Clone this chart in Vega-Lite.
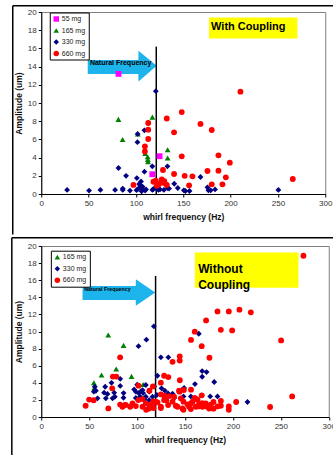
{
  "$schema": "https://vega.github.io/schema/vega-lite/v6.json",
  "padding": {"left": 10.25, "top": 4, "right": 0, "bottom": 0},
  "spacing": 0,
  "background": "white",
  "config": {
    "font": "Liberation Sans",
    "view": {"stroke": "#808080", "strokeWidth": 1},
    "axis": {"domainColor": "#000", "domainWidth": 1, "tickColor": "#000", "tickSize": 3, "gridColor": "#000", "gridWidth": 1, "gridOpacity": 0.9, "labelFontSize": 8, "labelColor": "#333", "labelPadding": 2, "titleFontSize": 8.5, "titleFontWeight": "bold", "titleColor": "#111"},
    "axisX": {"titlePadding": 5, "labelFlush": false},
    "axisY": {"titlePadding": 4},
    "legend": {"orient": "none", "title": null, "fillColor": "white", "strokeColor": "#000", "strokeWidth": 1, "padding": 3, "labelFontSize": 7, "labelColor": "#222", "symbolSize": 30, "rowPadding": 3.5, "labelOffset": 2, "symbolStrokeWidth": 0}
  },
  "resolve": {"scale": {"color": "independent", "shape": "independent", "x": "independent", "y": "independent"}, "legend": {"color": "independent", "shape": "independent"}},
  "datasets": {
    "withCoupling": [
      {"freq": 81.6, "amp": 13.2, "mass": "55 mg"}, {"freq": 125, "amp": 4.15, "mass": "55 mg"}, {"freq": 117.3, "amp": 2.17, "mass": "55 mg"},
      {"freq": 81.5, "amp": 8.2, "mass": "165 mg"}, {"freq": 85.9, "amp": 6.0, "mass": "165 mg"}, {"freq": 102, "amp": 6.6, "mass": "165 mg"}, {"freq": 109.7, "amp": 4.45, "mass": "165 mg"}, {"freq": 112.4, "amp": 4.1, "mass": "165 mg"}, {"freq": 112.6, "amp": 3.8, "mass": "165 mg"}, {"freq": 112.8, "amp": 3.55, "mass": "165 mg"}, {"freq": 117.4, "amp": 8.45, "mass": "165 mg"}, {"freq": 133.5, "amp": 4.87, "mass": "165 mg"}, {"freq": 133.5, "amp": 3.96, "mass": "165 mg"},
      {"freq": 27.3, "amp": 0.45, "mass": "330 mg"}, {"freq": 50.5, "amp": 0.38, "mass": "330 mg"}, {"freq": 62.5, "amp": 0.45, "mass": "330 mg"}, {"freq": 78, "amp": 0.45, "mass": "330 mg"}, {"freq": 86.1, "amp": 0.45, "mass": "330 mg"}, {"freq": 86.1, "amp": 0.6, "mass": "330 mg"}, {"freq": 93.7, "amp": 0.38, "mass": "330 mg"}, {"freq": 100.6, "amp": 0.42, "mass": "330 mg"}, {"freq": 102.6, "amp": 0.6, "mass": "330 mg"}, {"freq": 104.8, "amp": 0.95, "mass": "330 mg"}, {"freq": 106, "amp": 0.3, "mass": "330 mg"}, {"freq": 106.7, "amp": 0.45, "mass": "330 mg"}, {"freq": 109.7, "amp": 0.38, "mass": "330 mg"}, {"freq": 110.7, "amp": 0.5, "mass": "330 mg"}, {"freq": 117.4, "amp": 0.45, "mass": "330 mg"}, {"freq": 118.5, "amp": 0.55, "mass": "330 mg"}, {"freq": 121.3, "amp": 0.66, "mass": "330 mg"}, {"freq": 123.8, "amp": 0.45, "mass": "330 mg"}, {"freq": 125.5, "amp": 0.5, "mass": "330 mg"}, {"freq": 129.5, "amp": 0.45, "mass": "330 mg"}, {"freq": 133.3, "amp": 0.66, "mass": "330 mg"}, {"freq": 135, "amp": 0.6, "mass": "330 mg"}, {"freq": 140.5, "amp": 1.13, "mass": "330 mg"}, {"freq": 144.2, "amp": 0.66, "mass": "330 mg"}, {"freq": 150.6, "amp": 0.4, "mass": "330 mg"}, {"freq": 152.3, "amp": 0.33, "mass": "330 mg"}, {"freq": 156.6, "amp": 0.33, "mass": "330 mg"}, {"freq": 168.2, "amp": 1.87, "mass": "330 mg"}, {"freq": 175.6, "amp": 0.73, "mass": "330 mg"}, {"freq": 176.6, "amp": 0.4, "mass": "330 mg"}, {"freq": 179, "amp": 0.4, "mass": "330 mg"}, {"freq": 183.6, "amp": 0.5, "mass": "330 mg"}, {"freq": 250.5, "amp": 0.45, "mass": "330 mg"}, {"freq": 121, "amp": 11.3, "mass": "330 mg"}, {"freq": 101.8, "amp": 6.6, "mass": "330 mg"}, {"freq": 109, "amp": 7.0, "mass": "330 mg"}, {"freq": 101.6, "amp": 5.7, "mass": "330 mg"}, {"freq": 81.6, "amp": 2.86, "mass": "330 mg"}, {"freq": 89.6, "amp": 2.0, "mass": "330 mg"}, {"freq": 109, "amp": 2.45, "mass": "330 mg"}, {"freq": 117.3, "amp": 3.04, "mass": "330 mg"}, {"freq": 133.3, "amp": 3.04, "mass": "330 mg"}, {"freq": 101, "amp": 1.75, "mass": "330 mg"}, {"freq": 105.4, "amp": 1.38, "mass": "330 mg"}, {"freq": 103.5, "amp": 1.1, "mass": "330 mg"}, {"freq": 107, "amp": 0.8, "mass": "330 mg"},
      {"freq": 210.4, "amp": 11.25, "mass": "660 mg"}, {"freq": 148.4, "amp": 9.0, "mass": "660 mg"}, {"freq": 132.6, "amp": 8.3, "mass": "660 mg"}, {"freq": 168.2, "amp": 7.7, "mass": "660 mg"}, {"freq": 180.1, "amp": 7.03, "mass": "660 mg"}, {"freq": 140.3, "amp": 6.78, "mass": "660 mg"}, {"freq": 113, "amp": 7.8, "mass": "660 mg"}, {"freq": 113, "amp": 7.07, "mass": "660 mg"}, {"freq": 113, "amp": 6.04, "mass": "660 mg"}, {"freq": 109.5, "amp": 5.24, "mass": "660 mg"}, {"freq": 109.5, "amp": 4.67, "mass": "660 mg"}, {"freq": 148.4, "amp": 4.14, "mass": "660 mg"}, {"freq": 187.2, "amp": 4.25, "mass": "660 mg"}, {"freq": 199.2, "amp": 3.44, "mass": "660 mg"}, {"freq": 128.6, "amp": 2.64, "mass": "660 mg"}, {"freq": 140.3, "amp": 2.2, "mass": "660 mg"}, {"freq": 151.5, "amp": 2.0, "mass": "660 mg"}, {"freq": 159.7, "amp": 1.94, "mass": "660 mg"}, {"freq": 175.6, "amp": 2.53, "mass": "660 mg"}, {"freq": 187.2, "amp": 2.56, "mass": "660 mg"}, {"freq": 195, "amp": 1.83, "mass": "660 mg"}, {"freq": 191.4, "amp": 1.06, "mass": "660 mg"}, {"freq": 180.1, "amp": 1.06, "mass": "660 mg"}, {"freq": 156.2, "amp": 0.95, "mass": "660 mg"}, {"freq": 97.4, "amp": 1.0, "mass": "660 mg"}, {"freq": 118.5, "amp": 1.35, "mass": "660 mg"}, {"freq": 121, "amp": 1.47, "mass": "660 mg"}, {"freq": 127.3, "amp": 1.6, "mass": "660 mg"}, {"freq": 129.7, "amp": 1.2, "mass": "660 mg"}, {"freq": 132.6, "amp": 0.99, "mass": "660 mg"}, {"freq": 124.5, "amp": 1.1, "mass": "660 mg"}, {"freq": 265.7, "amp": 1.65, "mass": "660 mg"}, {"freq": 122, "amp": 0.9, "mass": "660 mg"}, {"freq": 130, "amp": 1.4, "mass": "660 mg"}
    ],
    "withoutCoupling": [
      {"freq": 69.9, "amp": 9.58, "mass": "165 mg"}, {"freq": 85.9, "amp": 8.38, "mass": "165 mg"}, {"freq": 78.2, "amp": 5.61, "mass": "165 mg"}, {"freq": 94.2, "amp": 4.75, "mass": "165 mg"}, {"freq": 62.9, "amp": 4.91, "mass": "165 mg"}, {"freq": 54.9, "amp": 4.01, "mass": "165 mg"}, {"freq": 55.3, "amp": 3.4, "mass": "165 mg"}, {"freq": 106.3, "amp": 3.8, "mass": "165 mg"},
      {"freq": 117.5, "amp": 10.6, "mass": "330 mg"}, {"freq": 109.7, "amp": 9.04, "mass": "330 mg"}, {"freq": 101.5, "amp": 8.28, "mass": "330 mg"}, {"freq": 164.4, "amp": 9.74, "mass": "330 mg"}, {"freq": 124.8, "amp": 6.98, "mass": "330 mg"}, {"freq": 132.6, "amp": 6.98, "mass": "330 mg"}, {"freq": 167.9, "amp": 5.37, "mass": "330 mg"}, {"freq": 172.5, "amp": 5.25, "mass": "330 mg"}, {"freq": 167.9, "amp": 4.71, "mass": "330 mg"}, {"freq": 160.4, "amp": 3.85, "mass": "330 mg"}, {"freq": 180.5, "amp": 4.09, "mass": "330 mg"}, {"freq": 121.2, "amp": 4.82, "mass": "330 mg"}, {"freq": 82.4, "amp": 4.46, "mass": "330 mg"}, {"freq": 82.4, "amp": 3.64, "mass": "330 mg"}, {"freq": 73.3, "amp": 4.0, "mass": "330 mg"}, {"freq": 55.9, "amp": 3.54, "mass": "330 mg"}, {"freq": 57, "amp": 3.07, "mass": "330 mg"}, {"freq": 54.9, "amp": 2.96, "mass": "330 mg"}, {"freq": 66.7, "amp": 3.54, "mass": "330 mg"}, {"freq": 65.6, "amp": 2.85, "mass": "330 mg"}, {"freq": 69.1, "amp": 2.69, "mass": "330 mg"}, {"freq": 76.1, "amp": 2.85, "mass": "330 mg"}, {"freq": 74.4, "amp": 2.18, "mass": "330 mg"}, {"freq": 76.8, "amp": 2.37, "mass": "330 mg"}, {"freq": 67.4, "amp": 2.18, "mass": "330 mg"}, {"freq": 58.7, "amp": 2.18, "mass": "330 mg"}, {"freq": 85.8, "amp": 2.25, "mass": "330 mg"}, {"freq": 85.9, "amp": 2.8, "mass": "330 mg"}, {"freq": 96.9, "amp": 3.23, "mass": "330 mg"}, {"freq": 98.7, "amp": 2.96, "mass": "330 mg"}, {"freq": 105.7, "amp": 3.15, "mass": "330 mg"}, {"freq": 109.1, "amp": 3.74, "mass": "330 mg"}, {"freq": 100.1, "amp": 3.78, "mass": "330 mg"}, {"freq": 103.2, "amp": 2.37, "mass": "330 mg"}, {"freq": 109.1, "amp": 2.37, "mass": "330 mg"}, {"freq": 112.6, "amp": 1.98, "mass": "330 mg"}, {"freq": 116.1, "amp": 2.37, "mass": "330 mg"}, {"freq": 112.6, "amp": 2.96, "mass": "330 mg"}, {"freq": 120.7, "amp": 2.57, "mass": "330 mg"}, {"freq": 125.5, "amp": 3.35, "mass": "330 mg"}, {"freq": 129, "amp": 3.08, "mass": "330 mg"}, {"freq": 132.4, "amp": 2.76, "mass": "330 mg"}, {"freq": 137, "amp": 2.72, "mass": "330 mg"}, {"freq": 147.4, "amp": 3.23, "mass": "330 mg"}, {"freq": 149.1, "amp": 3.39, "mass": "330 mg"}, {"freq": 148.4, "amp": 2.41, "mass": "330 mg"}, {"freq": 156.1, "amp": 2.41, "mass": "330 mg"}, {"freq": 176.3, "amp": 2.41, "mass": "330 mg"}, {"freq": 183.9, "amp": 2.41, "mass": "330 mg"}, {"freq": 215.2, "amp": 1.75, "mass": "330 mg"}, {"freq": 130.7, "amp": 1.95, "mass": "330 mg"}, {"freq": 138.7, "amp": 2.22, "mass": "330 mg"}, {"freq": 117.8, "amp": 3.58, "mass": "330 mg"}, {"freq": 86.5, "amp": 1.4, "mass": "330 mg"}, {"freq": 101.5, "amp": 2.8, "mass": "330 mg"}, {"freq": 106.3, "amp": 2.8, "mass": "330 mg"}, {"freq": 104, "amp": 3.0, "mass": "330 mg"}, {"freq": 98.7, "amp": 2.22, "mass": "330 mg"}, {"freq": 107.4, "amp": 2.02, "mass": "330 mg"},
      {"freq": 273.6, "amp": 18.86, "mass": "660 mg"}, {"freq": 206.8, "amp": 12.55, "mass": "660 mg"}, {"freq": 195.7, "amp": 12.35, "mass": "660 mg"}, {"freq": 183.9, "amp": 12.35, "mass": "660 mg"}, {"freq": 218.7, "amp": 12.24, "mass": "660 mg"}, {"freq": 172, "amp": 11.3, "mass": "660 mg"}, {"freq": 160.2, "amp": 9.98, "mass": "660 mg"}, {"freq": 156.3, "amp": 9.02, "mass": "660 mg"}, {"freq": 187.4, "amp": 10.2, "mass": "660 mg"}, {"freq": 199.2, "amp": 10.13, "mass": "660 mg"}, {"freq": 250.3, "amp": 8.96, "mass": "660 mg"}, {"freq": 167.4, "amp": 8.28, "mass": "660 mg"}, {"freq": 82.3, "amp": 6.98, "mass": "660 mg"}, {"freq": 175.5, "amp": 6.93, "mass": "660 mg"}, {"freq": 144.5, "amp": 7.1, "mass": "660 mg"}, {"freq": 144.5, "amp": 6.6, "mass": "660 mg"}, {"freq": 137, "amp": 6.45, "mass": "660 mg"}, {"freq": 74.7, "amp": 4.73, "mass": "660 mg"}, {"freq": 78.3, "amp": 4.73, "mass": "660 mg"}, {"freq": 74, "amp": 3.35, "mass": "660 mg"}, {"freq": 128.2, "amp": 4.82, "mass": "660 mg"}, {"freq": 132.6, "amp": 4.67, "mass": "660 mg"}, {"freq": 144.6, "amp": 4.3, "mass": "660 mg"}, {"freq": 124.8, "amp": 4.02, "mass": "660 mg"}, {"freq": 116.5, "amp": 3.58, "mass": "660 mg"}, {"freq": 101.4, "amp": 3.66, "mass": "660 mg"}, {"freq": 112.9, "amp": 3.08, "mass": "660 mg"}, {"freq": 144.3, "amp": 2.96, "mass": "660 mg"}, {"freq": 148.8, "amp": 3.16, "mass": "660 mg"}, {"freq": 156.3, "amp": 3.2, "mass": "660 mg"}, {"freq": 167.5, "amp": 2.53, "mass": "660 mg"}, {"freq": 261.8, "amp": 2.41, "mass": "660 mg"}, {"freq": 46.3, "amp": 1.32, "mass": "660 mg"}, {"freq": 50, "amp": 2.04, "mass": "660 mg"}, {"freq": 54.7, "amp": 1.96, "mass": "660 mg"}, {"freq": 70, "amp": 1.0, "mass": "660 mg"}, {"freq": 82.3, "amp": 1.45, "mass": "660 mg"}, {"freq": 84.8, "amp": 1.2, "mass": "660 mg"}, {"freq": 88.2, "amp": 1.4, "mass": "660 mg"}, {"freq": 92.8, "amp": 1.2, "mass": "660 mg"}, {"freq": 95.2, "amp": 1.59, "mass": "660 mg"}, {"freq": 98.7, "amp": 1.28, "mass": "660 mg"}, {"freq": 101.3, "amp": 1.98, "mass": "660 mg"}, {"freq": 105.7, "amp": 1.2, "mass": "660 mg"}, {"freq": 109.1, "amp": 1.59, "mass": "660 mg"}, {"freq": 109.5, "amp": 0.85, "mass": "660 mg"}, {"freq": 112.6, "amp": 0.99, "mass": "660 mg"}, {"freq": 113.3, "amp": 1.44, "mass": "660 mg"}, {"freq": 116.1, "amp": 1.4, "mass": "660 mg"}, {"freq": 117.1, "amp": 1.05, "mass": "660 mg"}, {"freq": 119.6, "amp": 1.79, "mass": "660 mg"}, {"freq": 121.3, "amp": 1.71, "mass": "660 mg"}, {"freq": 124.8, "amp": 1.2, "mass": "660 mg"}, {"freq": 124.8, "amp": 2.65, "mass": "660 mg"}, {"freq": 128.2, "amp": 1.98, "mass": "660 mg"}, {"freq": 128.2, "amp": 2.49, "mass": "660 mg"}, {"freq": 130.4, "amp": 1.95, "mass": "660 mg"}, {"freq": 132.4, "amp": 1.4, "mass": "660 mg"}, {"freq": 133.4, "amp": 2.45, "mass": "660 mg"}, {"freq": 137, "amp": 1.79, "mass": "660 mg"}, {"freq": 138.6, "amp": 2.37, "mass": "660 mg"}, {"freq": 140.4, "amp": 1.32, "mass": "660 mg"}, {"freq": 142.2, "amp": 1.2, "mass": "660 mg"}, {"freq": 143.8, "amp": 3.07, "mass": "660 mg"}, {"freq": 145.6, "amp": 2.18, "mass": "660 mg"}, {"freq": 147.4, "amp": 0.99, "mass": "660 mg"}, {"freq": 148.4, "amp": 1.79, "mass": "660 mg"}, {"freq": 148.4, "amp": 0.85, "mass": "660 mg"}, {"freq": 152.6, "amp": 1.48, "mass": "660 mg"}, {"freq": 154.3, "amp": 1.2, "mass": "660 mg"}, {"freq": 156.1, "amp": 1.59, "mass": "660 mg"}, {"freq": 156.1, "amp": 0.93, "mass": "660 mg"}, {"freq": 157.8, "amp": 1.79, "mass": "660 mg"}, {"freq": 160.2, "amp": 2.22, "mass": "660 mg"}, {"freq": 161.3, "amp": 1.2, "mass": "660 mg"}, {"freq": 163, "amp": 2.06, "mass": "660 mg"}, {"freq": 164.8, "amp": 1.59, "mass": "660 mg"}, {"freq": 164.4, "amp": 1.24, "mass": "660 mg"}, {"freq": 168.3, "amp": 1.2, "mass": "660 mg"}, {"freq": 168.2, "amp": 1.63, "mass": "660 mg"}, {"freq": 171.7, "amp": 1.59, "mass": "660 mg"}, {"freq": 172.5, "amp": 1.24, "mass": "660 mg"}, {"freq": 175.2, "amp": 0.99, "mass": "660 mg"}, {"freq": 176.9, "amp": 1.44, "mass": "660 mg"}, {"freq": 179.7, "amp": 1.75, "mass": "660 mg"}, {"freq": 179.7, "amp": 0.97, "mass": "660 mg"}, {"freq": 183.9, "amp": 1.24, "mass": "660 mg"}, {"freq": 187.4, "amp": 1.87, "mass": "660 mg"}, {"freq": 187.4, "amp": 1.32, "mass": "660 mg"}, {"freq": 195.7, "amp": 1.24, "mass": "660 mg"}, {"freq": 195.7, "amp": 0.85, "mass": "660 mg"}, {"freq": 203.4, "amp": 1.75, "mass": "660 mg"}, {"freq": 238.8, "amp": 1.17, "mass": "660 mg"}, {"freq": 105.6, "amp": 2.1, "mass": "660 mg"}, {"freq": 117.1, "amp": 1.83, "mass": "660 mg"}, {"freq": 124.8, "amp": 1.05, "mass": "660 mg"}
    ]
  },
  "vconcat": [
    {
      "width": 284,
      "height": 182,
      "layer": [
        {
          "data": {"values": [{}]},
          "mark": {"type": "rule", "color": "#000", "strokeWidth": 1.5},
          "encoding": {
            "x": {"datum": -30.1, "type": "quantitative", "scale": {"domain": [0, 300], "nice": false}, "title": "whirl frequency (Hz)", "axis": {"values": [0, 50, 100, 150, 200, 250, 300]}},
            "x2": {"datum": 310},
            "y": {"datum": 20.69, "type": "quantitative", "scale": {"domain": [0, 20], "nice": false}, "title": "Amplitude (um)", "axis": {"values": [0, 2, 4, 6, 8, 10, 12, 14, 16, 18, 20]}}
          }
        },
        {
          "data": {"values": [{}]},
          "mark": {"type": "rule", "color": "#000", "strokeWidth": 1.5},
          "encoding": {
            "x": {"datum": -30.1, "type": "quantitative", "title": "whirl frequency (Hz)", "axis": {"values": [0, 50, 100, 150, 200, 250, 300]}},
            "y": {"datum": 20.69, "type": "quantitative", "title": "Amplitude (um)", "axis": {"values": [0, 2, 4, 6, 8, 10, 12, 14, 16, 18, 20]}},
            "y2": {"datum": -4.45}
          }
        },
        {
          "data": {"values": [{}]},
          "mark": {"type": "rect", "color": "#FFFF00"},
          "encoding": {
            "x": {"datum": 177.2, "type": "quantitative", "title": "whirl frequency (Hz)", "axis": {"values": [0, 50, 100, 150, 200, 250, 300]}},
            "x2": {"datum": 270.6},
            "y": {"datum": 17.1, "type": "quantitative", "title": "Amplitude (um)", "axis": {"values": [0, 2, 4, 6, 8, 10, 12, 14, 16, 18, 20]}},
            "y2": {"datum": 19.4}
          }
        },
        {
          "data": {"values": [{"label": "With Coupling"}]},
          "mark": {"type": "text", "align": "left", "baseline": "middle", "fontSize": 11, "fontWeight": "bold", "color": "#000"},
          "encoding": {
            "x": {"datum": 179.4, "type": "quantitative", "title": "whirl frequency (Hz)", "axis": {"values": [0, 50, 100, 150, 200, 250, 300]}},
            "y": {"datum": 18.3, "type": "quantitative", "title": "Amplitude (um)", "axis": {"values": [0, 2, 4, 6, 8, 10, 12, 14, 16, 18, 20]}},
            "text": {"field": "label"}
          }
        },
        {
          "data": {"values": [{"f": 49.1, "lo": 13.19, "hi": 14.73}, {"f": 102.6, "lo": 13.19, "hi": 14.73}, {"f": 102.7, "lo": 12.37, "hi": 15.75}, {"f": 122, "lo": 14.1, "hi": 14.1}]},
          "mark": {"type": "area", "color": "#1DB4EC", "opacity": 1, "interpolate": "linear"},
          "encoding": {
            "x": {"field": "f", "type": "quantitative", "title": "whirl frequency (Hz)", "axis": {"values": [0, 50, 100, 150, 200, 250, 300]}},
            "y": {"field": "lo", "type": "quantitative", "title": "Amplitude (um)", "axis": {"values": [0, 2, 4, 6, 8, 10, 12, 14, 16, 18, 20]}},
            "y2": {"field": "hi"}
          }
        },
        {
          "data": {"values": [{"label": "Natural Frequency"}]},
          "mark": {"type": "text", "align": "left", "baseline": "middle", "fontSize": 7, "fontWeight": "bold", "color": "#000"},
          "encoding": {
            "x": {"datum": 51.4, "type": "quantitative", "title": "whirl frequency (Hz)", "axis": {"values": [0, 50, 100, 150, 200, 250, 300]}},
            "y": {"datum": 14.4, "type": "quantitative", "title": "Amplitude (um)", "axis": {"values": [0, 2, 4, 6, 8, 10, 12, 14, 16, 18, 20]}},
            "text": {"field": "label"}
          }
        },
        {
          "data": {"values": [{}]},
          "mark": {"type": "rule", "color": "#000", "strokeWidth": 1.5},
          "encoding": {
            "x": {"datum": 121.5, "type": "quantitative", "title": "whirl frequency (Hz)", "axis": {"values": [0, 50, 100, 150, 200, 250, 300]}},
            "y": {"datum": 0, "type": "quantitative", "title": "Amplitude (um)", "axis": {"values": [0, 2, 4, 6, 8, 10, 12, 14, 16, 18, 20]}},
            "y2": {"datum": 16.2}
          }
        },
        {
          "data": {"name": "withCoupling"},
          "mark": {"type": "point", "filled": true, "opacity": 1, "size": 34},
          "encoding": {
            "x": {"field": "freq", "type": "quantitative", "title": "whirl frequency (Hz)", "axis": {"values": [0, 50, 100, 150, 200, 250, 300]}},
            "y": {"field": "amp", "type": "quantitative", "title": "Amplitude (um)", "axis": {"values": [0, 2, 4, 6, 8, 10, 12, 14, 16, 18, 20]}},
            "color": {"field": "mass", "type": "nominal", "scale": {"domain": ["55 mg", "165 mg", "330 mg", "660 mg"], "range": ["#FF00FF", "#008000", "#000080", "#FF0000"]}, "legend": {"legendX": 8.5, "legendY": 0.5}},
            "shape": {"field": "mass", "type": "nominal", "scale": {"domain": ["55 mg", "165 mg", "330 mg", "660 mg"], "range": ["square", "triangle-up", "diamond", "circle"]}, "legend": {"legendX": 8.5, "legendY": 0.5}}
          }
        }
      ]
    },
    {
      "width": 287.5,
      "height": 171,
      "layer": [
        {
          "data": {"values": [{}]},
          "mark": {"type": "rule", "color": "#000", "strokeWidth": 1.5},
          "encoding": {
            "x": {"datum": -30.7, "type": "quantitative", "scale": {"domain": [0, 300], "nice": false}, "title": "whirl frequency (Hz)", "axis": {"values": [0, 50, 100, 150, 200, 250, 300]}},
            "x2": {"datum": 305},
            "y": {"datum": 20.97, "type": "quantitative", "scale": {"domain": [0, 20], "nice": false}, "title": "Amplitude (um)", "axis": {"values": [0, 2, 4, 6, 8, 10, 12, 14, 16, 18, 20]}}
          }
        },
        {
          "data": {"values": [{}]},
          "mark": {"type": "rule", "color": "#000", "strokeWidth": 1.5},
          "encoding": {
            "x": {"datum": -30.7, "type": "quantitative", "title": "whirl frequency (Hz)", "axis": {"values": [0, 50, 100, 150, 200, 250, 300]}},
            "y": {"datum": 20.97, "type": "quantitative", "title": "Amplitude (um)", "axis": {"values": [0, 2, 4, 6, 8, 10, 12, 14, 16, 18, 20]}},
            "y2": {"datum": -4.6}
          }
        },
        {
          "data": {"values": [{}]},
          "mark": {"type": "rect", "color": "#FFFF00"},
          "encoding": {
            "x": {"datum": 160.3, "type": "quantitative", "title": "whirl frequency (Hz)", "axis": {"values": [0, 50, 100, 150, 200, 250, 300]}},
            "x2": {"datum": 268.4},
            "y": {"datum": 15.12, "type": "quantitative", "title": "Amplitude (um)", "axis": {"values": [0, 2, 4, 6, 8, 10, 12, 14, 16, 18, 20]}},
            "y2": {"datum": 19.25}
          }
        },
        {
          "data": {"values": [{"label": "Without\nCoupling"}]},
          "mark": {"type": "text", "align": "left", "baseline": "middle", "fontSize": 12, "fontWeight": "bold", "color": "#000", "lineBreak": "\n", "lineHeight": 15.5},
          "encoding": {
            "x": {"datum": 163.7, "type": "quantitative", "title": "whirl frequency (Hz)", "axis": {"values": [0, 50, 100, 150, 200, 250, 300]}},
            "y": {"datum": 17.3, "type": "quantitative", "title": "Amplitude (um)", "axis": {"values": [0, 2, 4, 6, 8, 10, 12, 14, 16, 18, 20]}},
            "text": {"field": "label"}
          }
        },
        {
          "data": {"values": [{"f": 43.1, "lo": 13.68, "hi": 15.32}, {"f": 98.6, "lo": 13.68, "hi": 15.32}, {"f": 98.7, "lo": 13.0, "hi": 16.1}, {"f": 118.9, "lo": 14.57, "hi": 14.57}]},
          "mark": {"type": "area", "color": "#1DB4EC", "opacity": 1, "interpolate": "linear"},
          "encoding": {
            "x": {"field": "f", "type": "quantitative", "title": "whirl frequency (Hz)", "axis": {"values": [0, 50, 100, 150, 200, 250, 300]}},
            "y": {"field": "lo", "type": "quantitative", "title": "Amplitude (um)", "axis": {"values": [0, 2, 4, 6, 8, 10, 12, 14, 16, 18, 20]}},
            "y2": {"field": "hi"}
          }
        },
        {
          "data": {"values": [{"label": "Natural Frequency"}]},
          "mark": {"type": "text", "align": "left", "baseline": "middle", "fontSize": 5.3, "fontWeight": "bold", "color": "#000"},
          "encoding": {
            "x": {"datum": 44.8, "type": "quantitative", "title": "whirl frequency (Hz)", "axis": {"values": [0, 50, 100, 150, 200, 250, 300]}},
            "y": {"datum": 14.97, "type": "quantitative", "title": "Amplitude (um)", "axis": {"values": [0, 2, 4, 6, 8, 10, 12, 14, 16, 18, 20]}},
            "text": {"field": "label"}
          }
        },
        {
          "data": {"values": [{}]},
          "mark": {"type": "rule", "color": "#000", "strokeWidth": 1.5},
          "encoding": {
            "x": {"datum": 119.3, "type": "quantitative", "title": "whirl frequency (Hz)", "axis": {"values": [0, 50, 100, 150, 200, 250, 300]}},
            "y": {"datum": 0, "type": "quantitative", "title": "Amplitude (um)", "axis": {"values": [0, 2, 4, 6, 8, 10, 12, 14, 16, 18, 20]}},
            "y2": {"datum": 16.5}
          }
        },
        {
          "data": {"name": "withoutCoupling"},
          "mark": {"type": "point", "filled": true, "opacity": 1, "size": 34},
          "encoding": {
            "x": {"field": "freq", "type": "quantitative", "title": "whirl frequency (Hz)", "axis": {"values": [0, 50, 100, 150, 200, 250, 300]}},
            "y": {"field": "amp", "type": "quantitative", "title": "Amplitude (um)", "axis": {"values": [0, 2, 4, 6, 8, 10, 12, 14, 16, 18, 20]}},
            "color": {"field": "mass", "type": "nominal", "scale": {"domain": ["165 mg", "330 mg", "660 mg"], "range": ["#008000", "#000080", "#FF0000"]}, "legend": {"legendX": 9.6, "legendY": 4.7}},
            "shape": {"field": "mass", "type": "nominal", "scale": {"domain": ["165 mg", "330 mg", "660 mg"], "range": ["triangle-up", "diamond", "circle"]}, "legend": {"legendX": 9.6, "legendY": 4.7}}
          }
        }
      ]
    }
  ]
}
